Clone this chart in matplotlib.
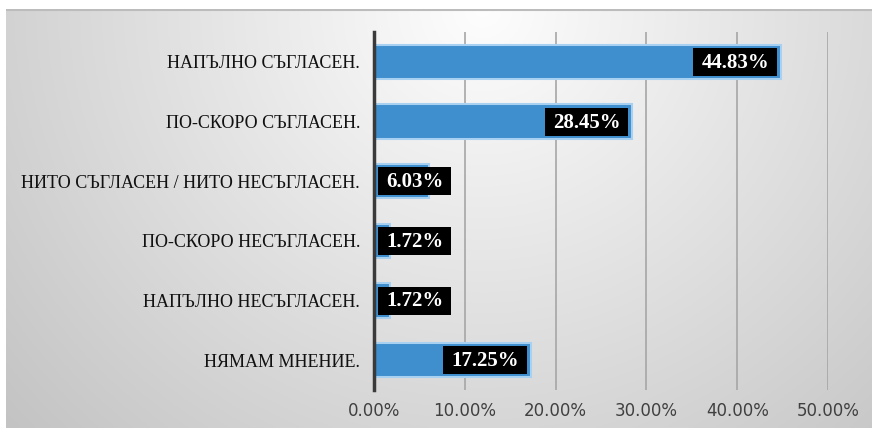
import numpy as np
import matplotlib.pyplot as plt
from matplotlib.patches import Rectangle
from matplotlib.ticker import FuncFormatter

categories = ["НАПЪЛНО СЪГЛАСЕН.", "ПО-СКОРО СЪГЛАСЕН.",
              "НИТО СЪГЛАСЕН / НИТО НЕСЪГЛАСЕН.", "ПО-СКОРО НЕСЪГЛАСЕН.",
              "НАПЪЛНО НЕСЪГЛАСЕН.", "НЯМАМ МНЕНИЕ."]
values = [44.83, 28.45, 6.03, 1.72, 1.72, 17.25]
xticks = [0, 10, 20, 30, 40, 50]

plt.rcParams['font.family'] = ['Liberation Serif', 'DejaVu Serif']

W, H = 872, 432
fig = plt.figure(figsize=(W / 100, H / 100), dpi=100)

# gradient background panel
bg = fig.add_axes([6 / W, 1 - 428 / H, 1 - 6 / W, 419 / H])
gx, gy = np.meshgrid(np.linspace(0, 1, 300), np.linspace(0, 1, 150))
d = np.sqrt(((gx - 0.55) / 0.55) ** 2 + ((gy - 0.0) / 1.1) ** 2)
g = np.clip(0.995 - 0.17 * d, 0, 1)
bg.imshow(np.dstack([g, g, g]), aspect='auto', extent=[0, 1, 1, 0])
bg.axhline(0.002, color='#bcbcbc', lw=1.5)
bg.set_axis_off()

ax = fig.add_axes([374 / W, 1 - 390 / H, (828 - 374) / W, 358 / H])
ax.patch.set_alpha(0)
y = np.arange(len(categories))
ax.barh(y, values, height=0.58, color='#3f8ecd', edgecolor='#a8d0f0', linewidth=1.5, zorder=3)
ax.set_xlim(0, 50)
ax.set_ylim(len(categories) - 0.5, -0.5)
ax.set_xticks(xticks)
ax.xaxis.set_major_formatter(FuncFormatter(lambda v, p: f"{v:.2f}%"))
ax.set_yticks(y)
ax.set_yticklabels(categories, fontsize=13, color='#111111')
ax.tick_params(axis='x', length=0, pad=9, colors='#404040')
ax.tick_params(axis='y', length=0, pad=10)
for t in ax.get_xticklabels():
    t.set_family(['DejaVu Sans'])
    t.set_fontsize(12)
ax.grid(axis='x', color='#a6a6a6', lw=1.2, zorder=0)
for s in ['top', 'right', 'bottom']:
    ax.spines[s].set_visible(False)
ax.spines['left'].set_color('#3a3a3a')
ax.spines['left'].set_linewidth(2.5)
ax.spines['left'].set_zorder(4)

# data labels: black boxes, inside end, pushed right of axis when bar is short
fig.canvas.draw()
r = fig.canvas.get_renderer()
px_x = 50 / (828 - 374)     # data units per pixel, x
px_y = 6 / 358              # data units per pixel, y
padx, boxh = 8, 28
for yi, v in zip(y, values):
    t = ax.text(0, yi, f"{v:.2f}%", ha='center', va='center', color='white',
                fontsize=15, fontweight='bold', zorder=6)
    bb = t.get_window_extent(r)
    bw = (bb.width + 2 * padx) * px_x
    x1 = v - 4 * px_x
    if x1 - bw < 4 * px_x:
        x1 = 4 * px_x + bw
    x0 = x1 - bw
    t.set_x((x0 + x1) / 2)
    t.set_y(yi + 1 * px_y)
    ax.add_patch(Rectangle((x0, yi - boxh / 2 * px_y), bw, boxh * px_y,
                           fc='black', ec='none', zorder=5))

fig.savefig('out.png', dpi=100)
